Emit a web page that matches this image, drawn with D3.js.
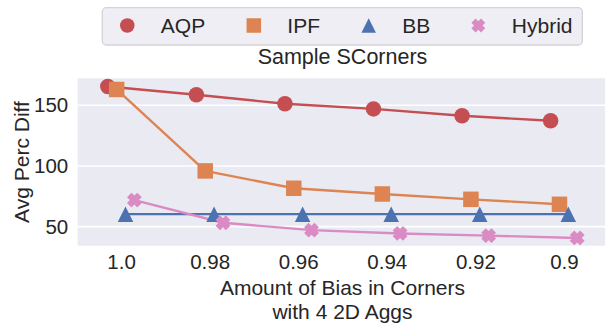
<!DOCTYPE html>
<html>
<head>
<meta charset="utf-8">
<script src="https://cdn.jsdelivr.net/npm/d3@7"></script>
<style>
  html, body { margin: 0; padding: 0; background: #ffffff; }
  svg { display: block; }
  text { font-family: "Liberation Sans", Arial, sans-serif; fill: #262626; }
</style>
</head>
<body>
<svg id="chart" width="605" height="325"></svg>
<script>
// ---- data ----
const categories = ["1.0", "0.98", "0.96", "0.94", "0.92", "0.9"];
const seriesNames = ["AQP", "IPF", "BB", "Hybrid"];
const aqpValues = [165.5, 158.7, 151.2, 147.0, 141.3, 137.2];
const ipfValues = [163.0, 95.9, 81.6, 76.9, 72.5, 68.4];
const bbValues = [60.3, 60.3, 60.3, 60.3, 60.3, 60.3];
const hybridValues = [71.9, 53.2, 47.1, 44.4, 42.6, 40.7];
const yTicks = [50, 100, 150];
const titleText = "Sample SCorners";
const xLabelLines = ["Amount of Bias in Corners", "with 4 2D Aggs"];
const yLabelText = "Avg Perc Diff";

const colors = ["#c44e52", "#dd8452", "#4c72b0", "#da8bc3"];
const symbols = ["circle", "square", "triangle", "x"];
const allValues = [aqpValues, ipfValues, bbValues, hybridValues];
const series = seriesNames.map((n, i) => ({ name: n, values: allValues[i], color: colors[i], symbol: symbols[i] }));

// ---- layout ----
const plot = { left: 77.7, top: 78.3, bottom: 245.7, right: 607.3 };
const svg = d3.select("#chart");

const x = d3.scaleLinear().domain([-0.49, 5.49]).range([plot.left, plot.right]);
const y = d3.scaleLinear().domain([34.3, 172.2]).range([plot.bottom, plot.top]);
const dodge = 0.3;
const n = series.length;
const offsets = d3.range(n).map(i => -dodge / 2 + dodge * i / (n - 1));

// background
svg.append("rect").attr("x", plot.left).attr("y", plot.top)
  .attr("width", plot.right - plot.left).attr("height", plot.bottom - plot.top)
  .attr("fill", "#eaeaf2");

// grid
svg.append("g").selectAll("line").data(yTicks).join("line")
  .attr("x1", plot.left).attr("x2", plot.right)
  .attr("y1", d => y(d)).attr("y2", d => y(d))
  .attr("stroke", "#ffffff").attr("stroke-width", 1.6);

// y axis
const yAxis = d3.axisLeft(y).tickValues(yTicks).tickSize(0).tickPadding(9.5);
const yg = svg.append("g").attr("transform", `translate(${plot.left},0)`).call(yAxis);
yg.select(".domain").remove();
yg.selectAll("text").style("font-size", "20.5px").attr("fill", "#262626")
  .style("font-family", "'Liberation Sans', Arial, sans-serif");

// x axis
const xAxis = d3.axisBottom(x).tickValues(d3.range(categories.length))
  .tickFormat(i => categories[i]).tickSize(0).tickPadding(9);
const xg = svg.append("g").attr("transform", `translate(0,${plot.bottom})`).call(xAxis);
xg.select(".domain").remove();
xg.selectAll("text").style("font-size", "20.5px").attr("fill", "#262626")
  .style("font-family", "'Liberation Sans', Arial, sans-serif");

// axis labels
const xl = svg.append("text").attr("text-anchor", "middle").style("font-size", "21px");
xLabelLines.forEach((t, i) => {
  xl.append("tspan").attr("x", (plot.left + plot.right) / 2).attr("y", 295 + i * 23.5).text(t);
});
svg.append("text").attr("text-anchor", "middle").style("font-size", "21px")
  .attr("transform", `translate(29,${(plot.top + plot.bottom) / 2}) rotate(-90)`)
  .text(yLabelText);

// title
svg.append("text").attr("text-anchor", "middle").style("font-size", "21.5px")
  .attr("x", (plot.left + plot.right) / 2).attr("y", 64).text(titleText);

// marker shapes
function markerPath(sym, s) {
  const h = s / 2;
  if (sym === "square") return `M${-h},${-h}H${h}V${h}H${-h}Z`;
  if (sym === "triangle") return `M0,${-h}L${h},${h}L${-h},${h}Z`;
  // filled X: plus shape rotated by 45 degrees
  const L = s * 0.47, w = L * 0.44;
  const plus = [[L,-w],[L,w],[w,w],[w,L],[-w,L],[-w,w],[-L,w],[-L,-w],[-w,-w],[-w,-L],[w,-L],[w,-w]];
  const c = Math.SQRT1_2;
  return "M" + plus.map(([a,b]) => [(a - b) * c, (a + b) * c].map(v => v.toFixed(2)).join(",")).join("L") + "Z";
}
function drawMarker(g, sym, cx, cy, s, color) {
  if (sym === "circle") {
    g.append("circle").attr("cx", cx).attr("cy", cy).attr("r", s / 2).attr("fill", color);
  } else {
    g.append("path").attr("d", markerPath(sym, s)).attr("transform", `translate(${cx},${cy})`).attr("fill", color);
  }
}

// lines
const lineGen = d3.line().x(d => x(d.i + d.off)).y(d => y(d.v));
series.forEach((s, si) => {
  const pts = s.values.map((v, i) => ({ i, v, off: offsets[si] }));
  svg.append("path").datum(pts).attr("d", lineGen)
    .attr("fill", "none").attr("stroke", s.color).attr("stroke-width", 2.4);
});
// markers
const mg = svg.append("g");
series.forEach((s, si) => {
  s.values.forEach((v, i) => {
    drawMarker(mg, s.symbol, x(i + offsets[si]), y(v), 15.5, s.color);
  });
});

// legend
const lg = svg.append("g");
lg.append("rect").attr("x", 102.3).attr("y", 7.7).attr("width", 480).attr("height", 37.3)
  .attr("rx", 4).attr("fill", "#eeeef4").attr("stroke", "#d3d3d8").attr("stroke-width", 1.3);
const legendMarkerX = [127.3, 253.8, 368.7, 478.3];
series.forEach((s, i) => {
  drawMarker(lg, s.symbol, legendMarkerX[i], 25.5, 14.5, s.color);
  lg.append("text").attr("x", legendMarkerX[i] + 33.5).attr("y", 33)
    .style("font-size", "21px").text(s.name);
});
</script>
</body>
</html>
